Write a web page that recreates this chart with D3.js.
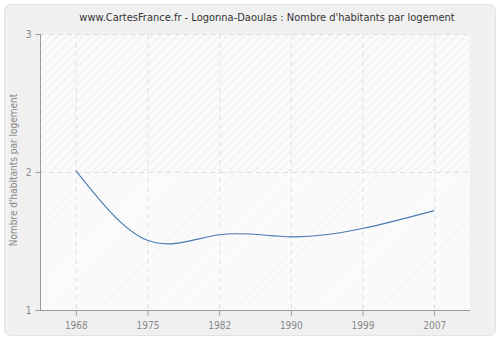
<!DOCTYPE html>
<html>
<head>
<meta charset="utf-8">
<script src="https://cdn.jsdelivr.net/npm/d3@7"></script>
<style>
  body { margin: 0; background: #fff; }
  svg { display: block; font-family: "DejaVu Sans Condensed", "DejaVu Sans", sans-serif; font-stretch: condensed; }
</style>
</head>
<body>
<div id="chart"></div>
<script>
// data
var years = ["1968", "1975", "1982", "1990", "1999", "2007"];
var values = [2.01, 1.505, 1.545, 1.53, 1.59, 1.72];
var yTicks = [1, 2, 3];

var titleText = "www.CartesFrance.fr - Logonna-Daoulas : Nombre d'habitants par logement";
var yLabel = "Nombre d'habitants par logement";

var W = 500, H = 340;
var margin = {top: 34, right: 30, bottom: 30, left: 40};
var fontFam = "'DejaVu Sans Condensed', 'DejaVu Sans', sans-serif";

var svg = d3.select("#chart").append("svg")
  .attr("width", W)
  .attr("height", H);

// outer panel
svg.append("rect")
  .attr("x", 4.5).attr("y", 4.5)
  .attr("width", W - 9).attr("height", H - 9)
  .attr("rx", 6)
  .attr("fill", "#f0f0f0")
  .attr("stroke", "#e2e2e2");

// hatch patterns
var defs = svg.append("defs");
function hatch(id, bg, line) {
  var p = defs.append("pattern")
    .attr("id", id)
    .attr("patternUnits", "userSpaceOnUse")
    .attr("width", 6).attr("height", 6)
    .attr("patternTransform", "rotate(45)");
  p.append("rect").attr("width", 6).attr("height", 6).attr("fill", bg);
  p.append("line").attr("x1", 0).attr("y1", 0).attr("x2", 0).attr("y2", 6)
    .attr("stroke", line).attr("stroke-width", 1.2);
}
hatch("hatchTop", "#fafafa", "#e8e8e8");
hatch("hatchBot", "#fbfbfb", "#f1f1f1");

var x = d3.scalePoint()
  .domain(years)
  .range([margin.left, W - margin.right])
  .padding(0.5);

var y = d3.scaleLinear()
  .domain([1, 3])
  .range([H - margin.bottom, margin.top]);

// plot background, two bands
svg.append("rect")
  .attr("x", margin.left).attr("y", y(3))
  .attr("width", W - margin.right - margin.left)
  .attr("height", y(2) - y(3))
  .attr("fill", "url(#hatchTop)");
svg.append("rect")
  .attr("x", margin.left).attr("y", y(2))
  .attr("width", W - margin.right - margin.left)
  .attr("height", y(1) - y(2))
  .attr("fill", "url(#hatchBot)");

// grid lines
svg.append("g")
  .selectAll("line")
  .data(years)
  .join("line")
    .attr("x1", d => x(d) + 0.5).attr("x2", d => x(d) + 0.5)
    .attr("y1", y(3)).attr("y2", y(1))
    .attr("stroke", "#e0e0e0")
    .attr("stroke-dasharray", "5,4");

svg.append("g")
  .selectAll("line")
  .data(yTicks.filter(d => d > 1))
  .join("line")
    .attr("x1", margin.left).attr("x2", W - margin.right)
    .attr("y1", d => y(d) + 0.5).attr("y2", d => y(d) + 0.5)
    .attr("stroke", "#e0e0e0")
    .attr("stroke-dasharray", "5,4");

// axes
var xAxis = svg.append("g")
  .attr("transform", `translate(0,${y(1) + 0.5})`)
  .call(d3.axisBottom(x).tickSize(5).tickPadding(6));
var yAxis = svg.append("g")
  .attr("transform", `translate(${margin.left + 0.5},0)`)
  .call(d3.axisLeft(y).tickValues(yTicks).tickFormat(d3.format("d")).tickSize(5).tickPadding(4));

[xAxis, yAxis].forEach(function(a) {
  a.select(".domain").attr("stroke", "#999");
  a.selectAll(".tick line").attr("stroke", "#999");
  a.selectAll(".tick text").attr("fill", "#888").attr("font-size", 10)
    .attr("font-family", fontFam);
});
xAxis.select(".domain").attr("d", `M${margin.left},0H${W - margin.right}`);
yAxis.select(".domain").attr("d", `M0,${y(3)}V${y(1)}`);

// the line
var line = d3.line()
  .x((d, i) => x(years[i]))
  .y(d => y(d))
  .curve(d3.curveNatural);

svg.append("path")
  .datum(values)
  .attr("fill", "none")
  .attr("stroke", "#4a7ab0")
  .attr("stroke-width", 1.1)
  .attr("d", line);

// title
svg.append("text")
  .attr("x", 267).attr("y", 21)
  .attr("text-anchor", "middle")
  .attr("font-size", 11)
  .attr("font-family", fontFam)
  .attr("fill", "#333")
  .text(titleText);

// y label
svg.append("text")
  .attr("transform", `translate(17,${(y(1) + y(3)) / 2 - 2}) rotate(-90)`)
  .attr("text-anchor", "middle")
  .attr("font-size", 10)
  .attr("font-family", fontFam)
  .attr("fill", "#888")
  .text(yLabel);
</script>
</body>
</html>
